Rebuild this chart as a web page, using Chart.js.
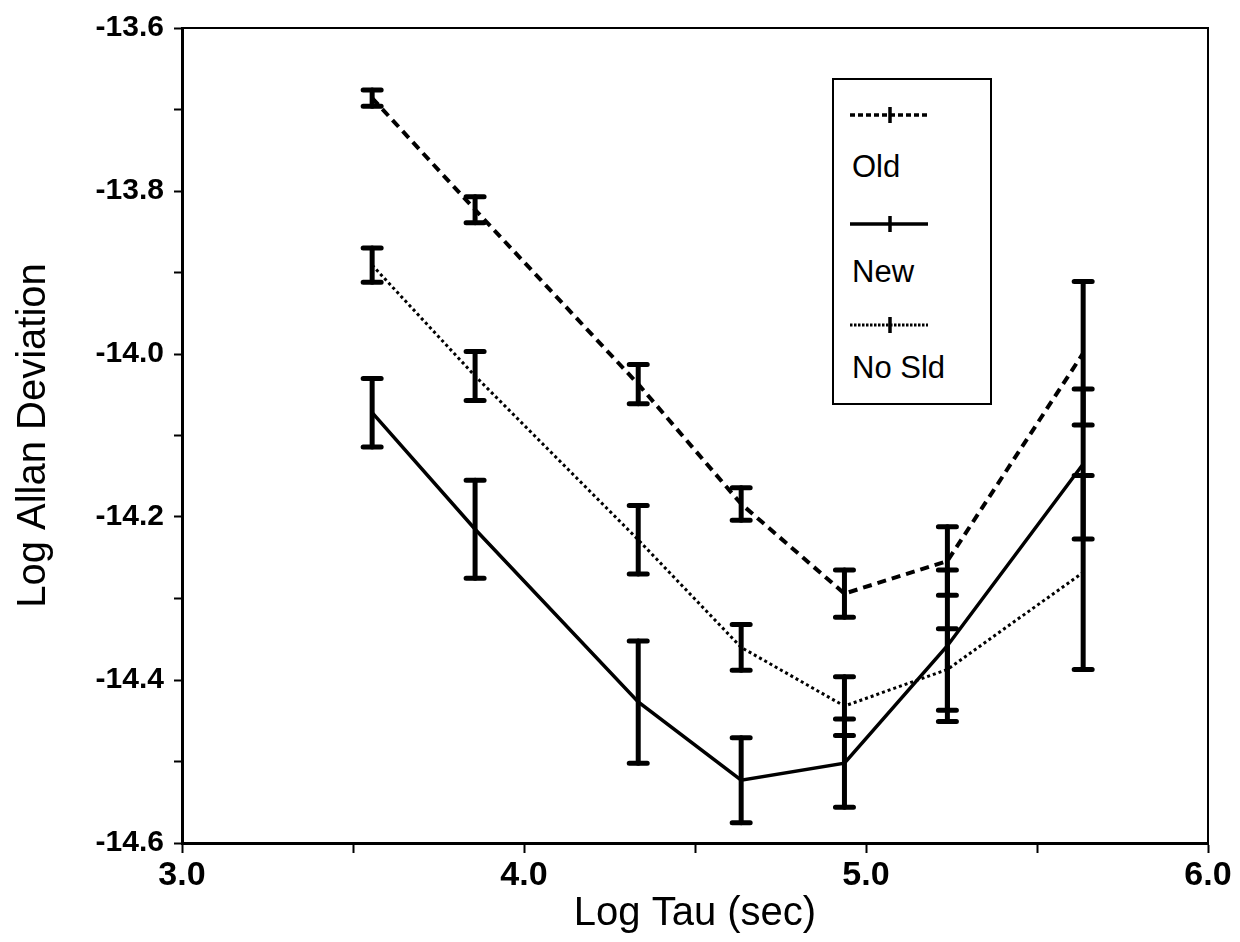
<!DOCTYPE html>
<html>
<head>
<meta charset="utf-8">
<script src="https://cdn.jsdelivr.net/npm/chart.js@4.4.1/dist/chart.umd.min.js"></script>
<style>
    html, body { margin: 0; padding: 0; background: #fff; }
    #wrap { position: relative; width: 1240px; height: 942px; }
    #legend {
        position: absolute; left: 832px; top: 78px; width: 156px; height: 323px;
        border: 2px solid #000; background: #fff;
        font-family: 'Liberation Sans', Arial, sans-serif; font-size: 31px; color: #000;
    }
    #legend svg { position: absolute; left: 0; top: 0; }
    #legend .lbl { position: absolute; left: 18px; line-height: 1; }
</style>
</head>
<body>
<div id="wrap">
    <canvas id="grafico"></canvas>
    <div id="legend">
        <svg width="156" height="323">
            <line x1="16" y1="35" x2="94" y2="35" stroke="#000" stroke-width="3.5" stroke-dasharray="5 3"/>
            <line x1="56" y1="27" x2="56" y2="43" stroke="#000" stroke-width="3.5"/>
            <line x1="16" y1="144" x2="94" y2="144" stroke="#000" stroke-width="3.5"/>
            <line x1="56" y1="136" x2="56" y2="152" stroke="#000" stroke-width="3.5"/>
            <line x1="16" y1="245" x2="94" y2="245" stroke="#000" stroke-width="3" stroke-dasharray="2.5 1.5"/>
            <line x1="56" y1="237" x2="56" y2="253" stroke="#000" stroke-width="3.5"/>
        </svg>
        <div class="lbl" style="top:71px">Old</div>
        <div class="lbl" style="top:176px">New</div>
        <div class="lbl" style="top:272px">No Sld</div>
    </div>
</div>
<script>
// log10 of tau: 1h, 2h, 6h, 12h, 1d, 2d, 5d
let logTau = [3.556, 3.857, 4.334, 4.635, 4.937, 5.238, 5.635];

let oldDev = [-13.686, -13.823, -14.037, -14.184, -14.294, -14.254, -13.999];
let oldErr = [0.010, 0.016, 0.024, 0.020, 0.029, 0.042, 0.088];

let newDev = [-14.072, -14.215, -14.427, -14.523, -14.502, -14.358, -14.135];
let newErr = [0.042, 0.060, 0.075, 0.052, 0.054, 0.093, 0.092];

let noSldDev = [-13.891, -14.027, -14.228, -14.360, -14.432, -14.387, -14.268];
let noSldErr = [0.021, 0.030, 0.042, 0.028, 0.036, 0.050, 0.119];

let xMin = 3.0, xMax = 6.0;
let yMin = -14.6, yMax = -13.6;

function pontos(ys) {
    return ys.map((y, i) => ({ x: logTau[i], y: y }));
}

// barras de erro desenhadas sobre as escalas do proprio grafico
const barrasErro = {
    id: 'barrasErro',
    afterDatasetsDraw(chart) {
        let ctx = chart.ctx;
        let xs = chart.scales.x, ys = chart.scales.y;
        ctx.save();
        ctx.strokeStyle = '#000';
        ctx.lineCap = 'round';
        chart.data.datasets.forEach(ds => {
            ds.data.forEach((p, i) => {
                let e = ds.erros[i];
                let px = xs.getPixelForValue(p.x);
                let top = ys.getPixelForValue(p.y + e);
                let bot = ys.getPixelForValue(p.y - e);
                ctx.lineWidth = 5;
                ctx.beginPath();
                ctx.moveTo(px, top);
                ctx.lineTo(px, bot);
                ctx.stroke();
                ctx.lineWidth = 5;
                ctx.beginPath();
                ctx.moveTo(px - 9, top); ctx.lineTo(px + 9, top);
                ctx.moveTo(px - 9, bot); ctx.lineTo(px + 9, bot);
                ctx.stroke();
            });
        });
        ctx.restore();
    }
};

// moldura completa da area do grafico
const moldura = {
    id: 'moldura',
    afterDraw(chart) {
        let a = chart.chartArea;
        let ctx = chart.ctx;
        ctx.save();
        ctx.strokeStyle = '#000';
        ctx.lineWidth = 2;
        ctx.beginPath();
        ctx.moveTo(a.left, a.top);
        ctx.lineTo(a.right, a.top);
        ctx.lineTo(a.right, a.bottom);
        ctx.stroke();
        ctx.restore();
    }
};

let fonteNum = "'Liberation Sans', Arial, sans-serif";

let config = {
    type: 'line',
    data: {
        datasets: [
            {
                label: 'Old',
                data: pontos(oldDev),
                erros: oldErr,
                borderColor: '#000',
                borderWidth: 4,
                borderDash: [9, 6]
            },
            {
                label: 'New',
                data: pontos(newDev),
                erros: newErr,
                borderColor: '#000',
                borderWidth: 3.5
            },
            {
                label: 'No Sld',
                data: pontos(noSldDev),
                erros: noSldErr,
                borderColor: '#000',
                borderWidth: 3,
                borderDash: [3, 3]
            }
        ]
    },
    options: {
        responsive: true,
        maintainAspectRatio: false,
        animation: false,
        layout: { padding: { top: 26, right: 32, left: 0, bottom: 0 } },
        elements: {
            point: { radius: 0 },
            line: { tension: 0 }
        },
        plugins: {
            legend: { display: false },
            tooltip: { enabled: false }
        },
        scales: {
            x: {
                type: 'linear',
                min: xMin,
                max: xMax,
                afterFit: s => { s.height = 99; },
                border: { display: true, color: '#000', width: 3 },
                grid: { drawOnChartArea: false, drawTicks: true, tickLength: 10, tickColor: '#000', tickWidth: 2 },
                ticks: {
                    stepSize: 0.5,
                    color: '#000',
                    padding: 2,
                    maxRotation: 0,
                    font: { family: fonteNum, size: 34, weight: 'bold' },
                    callback: v => (Math.abs(v - Math.round(v)) < 1e-6 ? v.toFixed(1) : '')
                },
                title: {
                    display: true,
                    text: 'Log Tau (sec)',
                    color: '#000',
                    padding: { top: 4, bottom: 4 },
                    font: { family: fonteNum, size: 40 }
                }
            },
            y: {
                type: 'linear',
                min: yMin,
                max: yMax,
                afterFit: s => { s.width = 182; },
                border: { display: true, color: '#000', width: 3 },
                grid: { drawOnChartArea: false, drawTicks: true, tickLength: 8, tickColor: '#000', tickWidth: 2 },
                ticks: {
                    stepSize: 0.1,
                    color: '#000',
                    padding: 10,
                    font: { family: fonteNum, size: 30, weight: 'bold' },
                    callback: v => (Math.round(v * 10) % 2 === 0 ? v.toFixed(1) : '')
                },
                title: {
                    display: true,
                    text: 'Log Allan Deviation',
                    color: '#000',
                    padding: { top: 10, bottom: 10 },
                    font: { family: fonteNum, size: 40 }
                }
            }
        }
    },
    plugins: [barrasErro, moldura]
};

let ctx = document.getElementById('grafico').getContext('2d');
let grafico = new Chart(ctx, config);
</script>
</body>
</html>
